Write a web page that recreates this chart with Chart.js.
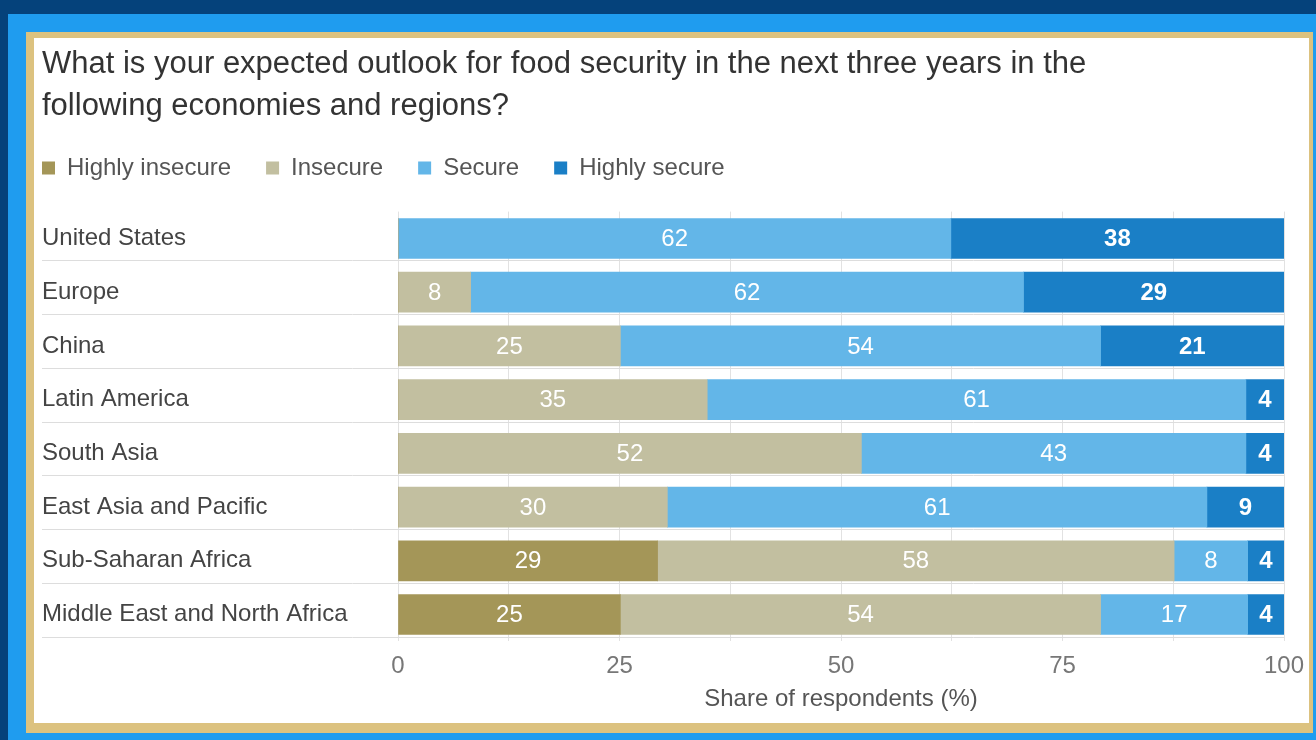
<!DOCTYPE html>
<html>
<head>
<meta charset="utf-8">
<script src="https://cdn.jsdelivr.net/npm/chart.js@4.4.1/dist/chart.umd.min.js"></script>
<style>
  html, body { margin: 0; padding: 0; width: 1316px; height: 740px; overflow: hidden; background: #05427b; }
  #blue { position: absolute; left: 8px; top: 14px; right: 0; bottom: 0; background: #1f9cef; }
  #gold { position: absolute; left: 26px; top: 32px; width: 1287px; height: 701px; background: #dcc27f; }
  #card { position: absolute; left: 34px; top: 38px; width: 1275px; height: 685px; background: #fff; }
</style>
</head>
<body>
<div id="blue"></div>
<div id="gold"></div>
<div id="card"><canvas id="foodChart" width="1275" height="685"></canvas></div>
<script>
const regions = [
  "United States", "Europe", "China", "Latin America", "South Asia",
  "East Asia and Pacific", "Sub-Saharan Africa", "Middle East and North Africa"
];
const highlyInsecure = [0, 0, 0, 0, 0, 0, 29.3, 25.1];
const insecure = [0, 8.2, 25.1, 34.9, 52.3, 30.4, 58.3, 54.2];
const secure = [62.4, 62.4, 54.2, 60.8, 43.4, 60.9, 8.3, 16.6];
const highlySecure = [37.6, 29.4, 20.7, 4.3, 4.3, 8.7, 4.1, 4.1];

const FONT = "'Liberation Sans', Arial, sans-serif";

// row separators under every bar, from the label column to the plot edge
const rowLines = {
  id: "rowLines",
  afterDatasetsDraw(chart) {
    const ctx = chart.ctx;
    const meta = chart.getDatasetMeta(0);
    ctx.save();
    ctx.strokeStyle = "#dddddd";
    ctx.lineWidth = 1;
    meta.data.forEach(bar => {
      const y = Math.round(bar.y + bar.height / 2 + 2) + 0.5;
      ctx.beginPath();
      ctx.moveTo(8, y);
      ctx.lineTo(chart.chartArea.right, y);
      ctx.stroke();
    });
    ctx.restore();
  }
};

// white numbers in the middle of each segment
const segLabels = {
  id: "segLabels",
  afterDatasetsDraw(chart) {
    const ctx = chart.ctx;
    ctx.save();
    ctx.fillStyle = "#ffffff";
    ctx.textAlign = "center";
    ctx.textBaseline = "middle";
    chart.data.datasets.forEach((ds, i) => {
      const meta = chart.getDatasetMeta(i);
      ctx.font = (i === 3 ? "bold " : "") + "24px " + FONT;
      meta.data.forEach((bar, j) => {
        const v = ds.data[j];
        if (!v) return;
        ctx.fillText(Math.round(v), (bar.x + bar.base) / 2, bar.y + 1);
      });
    });
    ctx.restore();
  }
};

// put the legend where the reference has it
const legendSpot = {
  id: "legendSpot",
  afterLayout(chart) {
    const lg = chart.legend;
    lg.left = 8 - 35;
    lg.top = 130 - 35 - 12;
  }
};

new Chart(document.getElementById("foodChart"), {
  type: "bar",
  data: {
    labels: regions,
    datasets: [
      { label: "Highly insecure", data: highlyInsecure, backgroundColor: "#a49658" },
      { label: "Insecure", data: insecure, backgroundColor: "#c2bfa0" },
      { label: "Secure", data: secure, backgroundColor: "#63b6e8" },
      { label: "Highly secure", data: highlySecure, backgroundColor: "#1a7fc6" }
    ]
  },
  options: {
    indexAxis: "y",
    responsive: false,
    animation: false,
    devicePixelRatio: 1,
    layout: { padding: { left: 8, right: 25, top: 0, bottom: 0 } },
    datasets: { bar: { barThickness: 40, borderWidth: 0 } },
    plugins: {
      title: {
        display: true,
        text: ["What is your expected outlook for food security in the next three years in the", "following economies and regions?"],
        align: "start",
        color: "#333333",
        font: { size: 31, family: FONT, weight: "normal", lineHeight: 42 / 31 },
        padding: { top: 5, bottom: 15.6 }
      },
      legend: {
        display: true,
        position: "top",
        align: "start",
        labels: {
          color: "#555555",
          font: { size: 24, family: FONT },
          boxWidth: 13,
          boxHeight: 13,
          padding: 35
        }
      },
      tooltip: { enabled: false }
    },
    scales: {
      x: {
        stacked: true,
        min: 0,
        max: 100,
        border: { display: false },
        grid: { color: "#e2e2e2", drawTicks: false },
        ticks: {
          stepSize: 12.5,
          autoSkip: false,
          maxRotation: 0,
          padding: 10.2,
          color: "#777777",
          font: { size: 24, family: FONT },
          callback: v => (v % 25 === 0 ? v : "")
        },
        title: {
          display: true,
          text: "Share of respondents (%)",
          color: "#555555",
          font: { size: 24, family: FONT },
          padding: { top: 0, bottom: 9.6 }
        },
        afterFit: s => { s.height = 81.6; s.paddingRight = 0; s.paddingLeft = 0; }
      },
      y: {
        stacked: true,
        border: { display: false },
        grid: { display: false },
        ticks: {
          crossAlign: "far",
          color: "#444444",
          font: { size: 24, family: FONT }
        },
        afterFit: s => { s.width = 356; }
      }
    }
  },
  plugins: [rowLines, segLabels, legendSpot]
});
</script>
</body>
</html>
